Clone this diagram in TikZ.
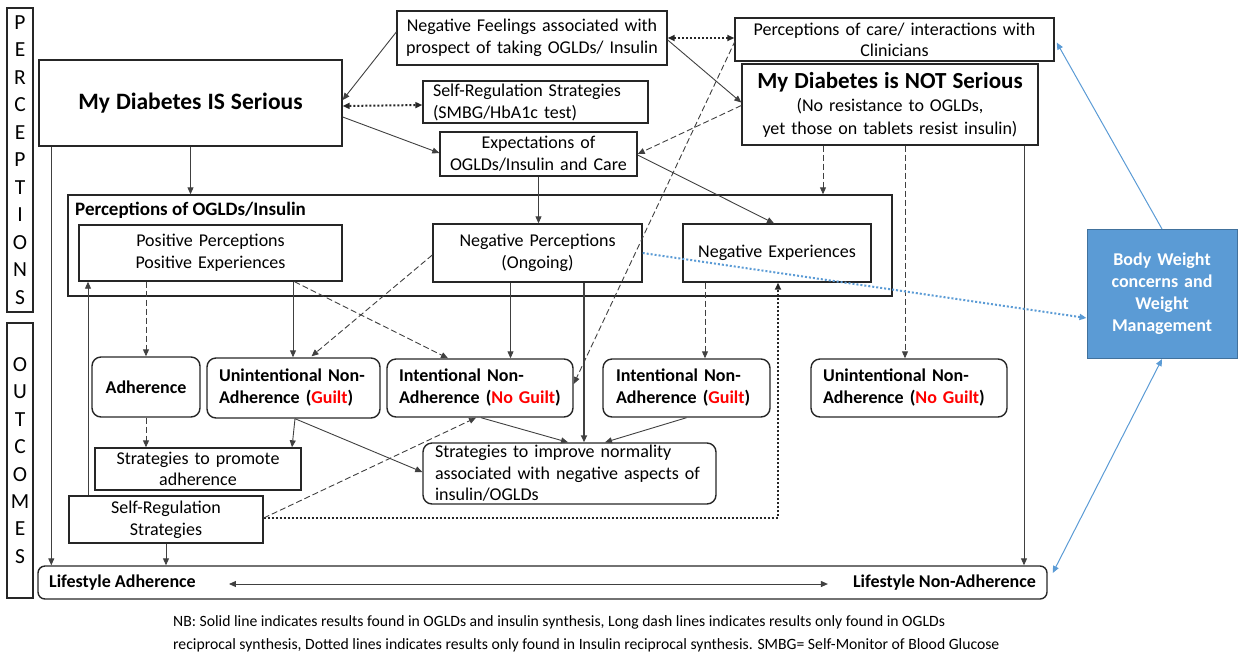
\documentclass[tikz,border=0pt]{standalone}
\usepackage{fontspec}
\setmainfont{Carlito}
\usetikzlibrary{arrows.meta,calc}
\definecolor{boxc}{HTML}{262626}
\definecolor{linec}{HTML}{404040}
\definecolor{gred}{HTML}{FF0000}
\definecolor{bwblue}{HTML}{5B9BD5}
\definecolor{bwedge}{HTML}{41719C}
\newcommand\bodyf{\fontsize{18}{22}\selectfont}
\newcommand\Gl[1]{\textcolor{gred}{#1}}
\tikzset{
 bx/.style={draw=boxc, line width=1.4pt, inner sep=0pt, font=\bodyf, align=center},
 rbx/.style={bx, rounded corners=9pt},
 ln/.style={draw=linec, line width=0.9pt},
 arr/.style={ln, -{Triangle[length=7pt,width=6pt]}},
 darr/.style={ln, {Triangle[length=7pt,width=6pt]}-{Triangle[length=7pt,width=6pt]}},
 dsh/.style={dash pattern=on 6pt off 3pt},
 dotb/.style={draw=boxc, line width=2pt, dash pattern=on 2pt off 2pt},
 blu/.style={draw=bwblue, line width=1pt},
 btip/.style={-{Triangle[length=7pt,width=6pt]}},
 bbtip/.style={{Triangle[length=7pt,width=6pt]}-{Triangle[length=7pt,width=6pt]}},
}
\begin{document}
\begin{tikzpicture}[x=1pt,y=-1pt]
\useasboundingbox (0,0) rectangle (1238,654);

% side labels
\node[bx, line width=1.8pt, minimum width=26pt, minimum height=304pt, font=\fontsize{21.5}{27.5}\selectfont] (lblp) at (20,160) {P\\E\\R\\C\\E\\P\\T\\I\\O\\N\\S};
\node[bx, line width=1.8pt, minimum width=26pt, minimum height=275pt, font=\fontsize{21.5}{27.4}\selectfont] (lblo) at (20,460.5) {O\\U\\T\\C\\O\\M\\E\\S};

% top boxes
\node[bx, minimum width=303pt, minimum height=86pt, text width=295pt] (isser) at (190.5,103) {\fontsize{23.5}{27}\selectfont\bfseries My Diabetes IS Serious};
\node[bx, minimum width=270pt, minimum height=54pt, text width=262pt] (negfeel) at (532,38) {Negative Feelings associated with\\prospect of taking OGLDs/ Insulin};
\node[bx, minimum width=225pt, minimum height=42pt, text width=205pt, align=left] (selfreg1) at (535.5,102) {Self-Regulation Strategies\\(SMBG/HbA1c test)};
\node[bx, minimum width=197pt, minimum height=44pt, text width=189pt] (expect) at (538.5,154) {Expectations of\\OGLDs/Insulin and Care};
\node[bx, minimum width=319pt, minimum height=43pt, text width=311pt, font=\fontsize{18}{21}\selectfont] (care) at (894.5,39.5) {Perceptions of care/ interactions with\\Clinicians};
\node[bx, minimum width=296pt, minimum height=81pt, text width=288pt, font=\fontsize{18}{23}\selectfont] (notser) at (890,104.5) {{\fontsize{23}{26}\selectfont\bfseries My Diabetes is NOT Serious}\\(No resistance to OGLDs,\\yet those on tablets resist insulin)};

% perceptions of OGLDs box
\node[bx, minimum width=824pt, minimum height=101pt] (percbox) at (480,245.5) {};
\node[anchor=west, inner sep=0pt, font=\fontsize{19}{22}\selectfont\bfseries] (perct) at (75,210) {Perceptions of OGLDs/Insulin};
\node[bx, minimum width=263pt, minimum height=56pt, text width=255pt] (pos) at (210.5,253) {Positive Perceptions\\Positive Experiences};
\node[bx, minimum width=209pt, minimum height=58pt, text width=201pt] (negp) at (537.5,253) {Negative Perceptions\\(Ongoing)};
\node[bx, minimum width=188pt, minimum height=58pt, text width=180pt] (negx) at (777,253) {Negative Experiences};

% outcome boxes
\node[rbx, minimum width=108pt, minimum height=60pt, text width=100pt, font=\bodyf\bfseries] (adh) at (146,387) {Adherence};
\node[rbx, minimum width=173pt, minimum height=60pt, text width=149pt, align=left, font=\bodyf\bfseries] (ung) at (293.5,388) {Unintentional Non-\\Adherence (\Gl{Guilt})};
\node[rbx, minimum width=186pt, minimum height=58pt, text width=162pt, align=left, font=\bodyf\bfseries] (inng) at (480,388) {Intentional Non-\\Adherence (\Gl{No Guilt})};
\node[rbx, minimum width=167pt, minimum height=58pt, text width=141pt, align=left, font=\bodyf\bfseries] (ing) at (686.5,388) {Intentional Non-\\Adherence (\Gl{Guilt})};
\node[rbx, minimum width=196pt, minimum height=58pt, text width=172pt, align=left, font=\bodyf\bfseries] (unng) at (909,388) {Unintentional Non-\\Adherence (\Gl{No Guilt})};

\node[bx, minimum width=206pt, minimum height=42pt, text width=198pt, font=\fontsize{18}{21}\selectfont] (promote) at (198,469) {Strategies to promote\\adherence};
\node[bx, minimum width=194pt, minimum height=47pt, text width=186pt] (selfreg2) at (166,519.5) {Self-Regulation\\Strategies};
\node[rbx, minimum width=293pt, minimum height=61pt, text width=269pt, align=left, font=\fontsize{18}{21.5}\selectfont] (improve) at (569.5,473.5) {Strategies to improve normality\\associated with negative aspects of\\insulin/OGLDs};

% lifestyle
\node[rbx, rounded corners=7pt, minimum width=1009pt, minimum height=33pt] (life) at (542.5,582.5) {};
\node[anchor=west, inner sep=0pt, font=\bodyf\bfseries] (lifeA) at (49,583) {Lifestyle Adherence};
\node[anchor=east, inner sep=0pt, font=\bodyf\bfseries] (lifeN) at (1036,583) {Lifestyle Non-Adherence};

% body weight
\node[draw=bwedge, fill=bwblue, line width=1pt, minimum width=150pt, minimum height=129pt, text width=142pt, align=center, inner sep=0pt, text=white, font=\fontsize{18}{22}\selectfont\bfseries] (body) at (1162,294) {Body Weight\\concerns and\\Weight\\Management};

% note
\node[anchor=west, align=left, inner sep=0pt, font=\fontsize{15.7}{23}\selectfont] (note) at (173,634) {NB: Solid line indicates results found in OGLDs and insulin synthesis, Long dash lines indicates results only found in OGLDs\\reciprocal synthesis, Dotted lines indicates results only found in Insulin reciprocal synthesis. SMBG= Self-Monitor of Blood Glucose};

% helper coordinates
\coordinate (k11) at ($(notser.south)+(-67,0)$);
\coordinate (k12) at ($(notser.south)+(15,0)$);
\coordinate (k13) at ($(notser.south)+(134,0)$);
\coordinate (k17) at ($(pos.south)+(-64.5,0)$);
\coordinate (k18) at ($(pos.south)+(82.5,0)$);
\coordinate (k21) at ($(negp.south)+(-27,0)$);
\coordinate (k22) at ($(negp.south)+(46.5,0)$);
\coordinate (k23) at ($(negx.south)+(-72,0)$);
\coordinate (k32) at ($(selfreg2.north)+(-78,0)$);
\coordinate (k33) at ($(isser.south west)+(13,0)$);

% connectors
\draw[arr] ([shift={(0,-6)}]negfeel.west) -- ([shift={(0,-3)}]isser.east);
\draw[darr, dotb] ([shift={(0,3)}]isser.east) -- ([shift={(0,3)}]selfreg1.west);
\draw[arr] ([shift={(0,14)}]isser.east) -- ([shift={(0,-1)}]expect.west);
\draw[arr] (isser.south) -- (isser.south |- percbox.north);
\draw[darr, dotb] (negfeel.east) -- (negfeel.east -| care.west);
\draw[arr] ([shift={(0,2)}]negfeel.east) -- ([shift={(0,-2)}]notser.west);
\draw[arr, dsh] ([shift={(0,1)}]notser.west) -- (expect.east);
\draw[arr, dsh] ([shift={(1,1)}]care.west) -- ([shift={(0,-4)}]inng.east);
\draw[arr] (expect.south) -- (expect.south |- negp.north);
\draw[arr] ([shift={(0,1)}]expect.east) -- ([shift={(-3,0)}]negx.north);
\draw[arr, dsh] (k11) -- (k11 |- percbox.north);
\draw[arr, dsh] (k12) -- (k12 |- unng.north);
\draw[arr] (k13) -- (k13 |- life.north);
\draw[blu, btip] (body.north) -- ([shift={(2,3)}]care.east);
\draw[blu, bbtip] (body.south) -- ([shift={(5,-9.5)}]life.east);
\draw[blu, line width=2pt, dash pattern=on 2pt off 2pt, btip] (negp.east) -- ([shift={(0,24)}]body.west);
\draw[arr, dsh] (k17) -- (k17 |- adh.north);
\draw[arr] (k18) -- (k18 |- ung.north);
\draw[arr, dsh] ([shift={(84,0)}]pos.south) -- ([shift={(-32,0)}]inng.north);
\draw[arr, dsh] ([shift={(0,2)}]negp.west) -- ([shift={(18,-1)}]ung.north);
\draw[arr] (k21) -- (k21 |- inng.north);
\draw[arr, line width=1.8pt] (k22) -- (k22 |- improve.north);
\draw[arr, dsh] (k23) -- (k23 |- ing.north);
\draw[arr, dotb] ([shift={(0,-1.5)}]selfreg2.east) -| ([shift={(1,0)}]negx.south);
\draw[arr, dsh] ([shift={(0,-1.5)}]selfreg2.east) -- ([shift={(-4,0)}]inng.south);
\draw[arr] ([shift={(1.5,0)}]ung.south) -- ([shift={(94,0)}]promote.north);
\draw[arr] ([shift={(1.5,0)}]ung.south) -- ([shift={(0,-1.5)}]improve.west);
\draw[arr] ([shift={(1,0)}]inng.south) -- ([shift={(-1.5,0)}]improve.north);
\draw[arr] (ing.south) -- ([shift={(35.5,0)}]improve.north);
\draw[arr, dsh] (adh.south) -- (adh.south |- promote.north);
\draw[arr] (selfreg2.south) -- (selfreg2.south |- life.north);
\draw[arr] (k32) -- (k32 |- pos.south);
\draw[arr] (k33) -- (k33 |- life.north);
\draw[darr] ([shift={(33,1)}]lifeA.east) -- ([shift={(-25,1)}]lifeN.west);
\end{tikzpicture}
\end{document}
